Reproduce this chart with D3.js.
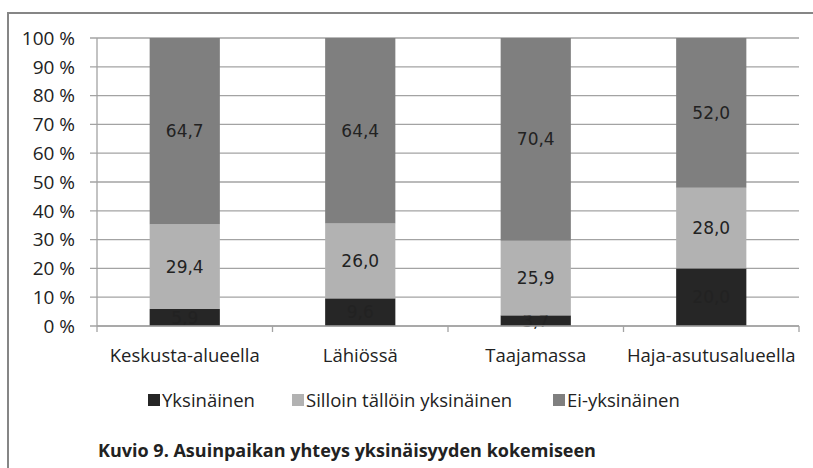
<!DOCTYPE html>
<html>
<head>
<meta charset="utf-8">
<script src="https://cdn.jsdelivr.net/npm/d3@7"></script>
<style>
  body { margin: 0; background: #fff; }
  text { font-family: "Open Sans", sans-serif; fill: #222; }
</style>
</head>
<body>
<div id="chart"></div>
<script>
const categories = ['Keskusta-alueella', 'Lähiössä', 'Taajamassa', 'Haja-asutusalueella']
const series = ['Yksinäinen', 'Silloin tällöin yksinäinen', 'Ei-yksinäinen']
const yksinainen = [5.9, 9.6, 3.7, 20.0]
const silloin = [29.4, 26.0, 25.9, 28.0]
const eiYksinainen = [64.7, 64.4, 70.4, 52.0]
const yTicks = [0, 10, 20, 30, 40, 50, 60, 70, 80, 90, 100]
const title = 'Kuvio 9. Asuinpaikan yhteys yksinäisyyden kokemiseen'

const colors = d3.scaleOrdinal().domain(series).range(['#262626', '#b2b2b2', '#7f7f7f'])

const width = 813, height = 468
const margin = {top: 38, right: 14, bottom: 142, left: 97}

let svg = d3.select('#chart').append('svg')
            .attr('width', width)
            .attr('height', height)

// outer frame (only top + left are in the picture)
svg.append('line').attr('x1', 7).attr('x2', width).attr('y1', 13).attr('y2', 13)
   .attr('stroke', '#868686').attr('stroke-width', 2)
svg.append('line').attr('x1', 8).attr('x2', 8).attr('y1', 12).attr('y2', height)
   .attr('stroke', '#868686').attr('stroke-width', 2)

const rows = categories.map((c, i) => ({
    cat: c,
    'Yksinäinen': yksinainen[i],
    'Silloin tällöin yksinäinen': silloin[i],
    'Ei-yksinäinen': eiYksinainen[i]
}))
const stacked = d3.stack().keys(series)(rows)

let x = d3.scaleBand()
          .domain(categories)
          .range([margin.left, width - margin.right])
          .paddingInner(0.6)
          .paddingOuter(0.3)

let y = d3.scaleLinear()
          .domain([0, 100])
          .range([height - margin.bottom, margin.top])

// gridlines (with small tick stubs left of the axis)
svg.append('g').selectAll('line').data(yTicks).join('line')
   .attr('x1', margin.left - 7).attr('x2', width - margin.right)
   .attr('y1', d => y(d)).attr('y2', d => y(d))
   .attr('stroke', '#a3a3a3').attr('stroke-width', 1.3)

// y labels
svg.append('g').selectAll('text').data(yTicks).join('text')
   .attr('x', 75).attr('y', d => y(d))
   .attr('dy', '0.36em')
   .attr('text-anchor', 'end')
   .style('font-size', '19px')
   .text(d => d + ' %')

// y axis line
svg.append('line').attr('x1', margin.left).attr('x2', margin.left)
   .attr('y1', margin.top).attr('y2', y(0))
   .attr('stroke', '#a3a3a3').attr('stroke-width', 1.3)

// bars
let layers = svg.append('g').selectAll('g').data(stacked).join('g')
                .attr('fill', d => colors(d.key))
layers.selectAll('rect').data(d => d).join('rect')
      .attr('x', d => x(d.data.cat))
      .attr('width', x.bandwidth())
      .attr('y', d => y(d[1]))
      .attr('height', d => y(d[0]) - y(d[1]))

// x axis line + ticks at category boundaries
svg.append('line').attr('x1', margin.left).attr('x2', width - margin.right)
   .attr('y1', y(0)).attr('y2', y(0))
   .attr('stroke', '#a3a3a3').attr('stroke-width', 1.3)
const bounds = d3.range(categories.length + 1).map(i => margin.left + i * x.step())
svg.append('g').selectAll('line').data(bounds).join('line')
   .attr('x1', d => d).attr('x2', d => d)
   .attr('y1', y(0)).attr('y2', y(0) + 6)
   .attr('stroke', '#a3a3a3').attr('stroke-width', 1.3)

// value labels
layers.selectAll('text').data(d => d).join('text')
      .attr('x', d => x(d.data.cat) + x.bandwidth() / 2)
      .attr('y', d => (y(d[0]) + y(d[1])) / 2)
      .attr('dy', '0.36em')
      .attr('text-anchor', 'middle')
      .style('font-family', '"DejaVu Sans", sans-serif')
      .style('font-size', '17px')
      .text(d => d3.format('.1f')(d[1] - d[0]).replace('.', ','))

// category labels
svg.append('g').selectAll('text').data(categories).join('text')
   .attr('x', d => x(d) + x.bandwidth() / 2)
   .attr('y', 362)
   .attr('text-anchor', 'middle')
   .style('font-size', '18.5px')
   .text(d => d)

// legend
const legendX = [148, 292, 553]
let legend = svg.append('g').selectAll('g').data(series).join('g')
                .attr('transform', (d, i) => `translate(${legendX[i]},400)`)
legend.append('rect').attr('x', 0).attr('y', -6).attr('width', 12).attr('height', 12)
      .attr('fill', d => colors(d))
legend.append('text').attr('x', 14).attr('y', 6.5)
      .style('font-size', '18.5px')
      .text(d => d)

// title
svg.append('text')
   .attr('x', 98).attr('y', 457)
   .style('font-size', '18px')
   .style('font-weight', 'bold')
   .text(title)
</script>
</body>
</html>
